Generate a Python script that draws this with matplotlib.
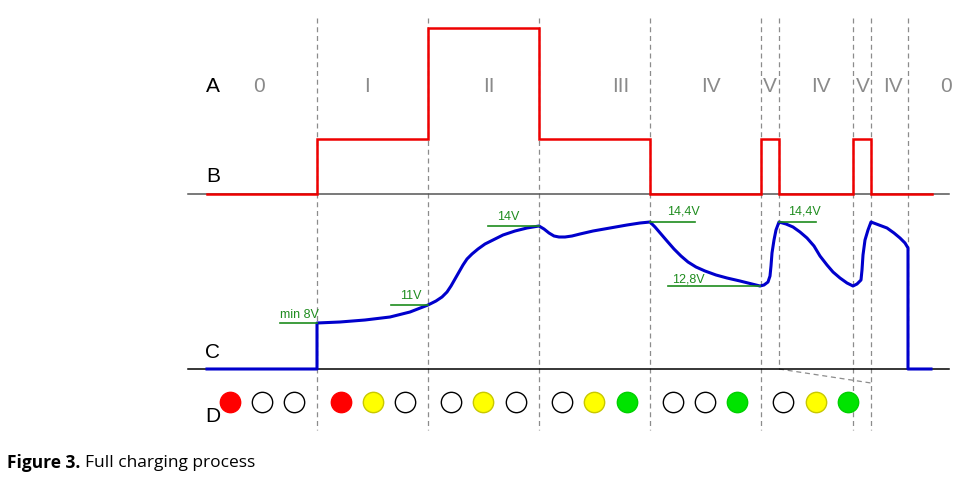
import matplotlib.pyplot as plt

# phase boundaries (x, px) and phase names shown along the top row
boundaries = [317, 428, 539, 650, 761, 779, 853, 871]
phase_x = [259, 367, 489, 621, 711, 770, 821, 863, 893, 946]
phase_names = ["0", "I", "II", "III", "IV", "V", "IV", "V", "IV", "0"]

# B: charging current (step signal)
current_x = [207, 317, 428, 539, 650, 761, 779, 853, 871, 932]
current_y = [194, 139, 28, 139, 194, 139, 194, 139, 194, 194]

# C: battery voltage curve
voltage_x = [207, 317, 317, 340, 365, 390, 410, 428, 436, 442, 447, 451, 455, 459,
             463, 467, 472, 478, 485, 493, 503, 515, 527, 539, 544, 549, 554, 559,
             565, 572, 580, 593, 610, 627, 640, 650, 655, 661, 667, 674, 681, 688,
             696, 705, 716, 727, 740, 752, 760, 764, 768, 770, 771, 772, 774, 776,
             779, 786, 793, 800, 807, 814, 820, 827, 833, 840, 847, 853, 857, 861,
             862, 863, 865, 868, 871, 879, 887, 894, 900, 905, 908, 908, 931]
voltage_y = [369, 369, 323, 322, 320, 317, 312, 305, 301, 297, 292, 286, 279, 272,
             265, 259, 254, 249, 244, 240, 235, 231, 228, 226, 229, 233, 236, 237,
             237, 236, 234, 231, 228, 225, 223, 222, 227, 234, 241, 249, 256, 262,
             267, 271, 275, 278, 281, 284, 286, 285, 282, 276, 266, 253, 240, 230,
             222, 224, 227, 232, 238, 246, 256, 265, 272, 278, 283, 286, 284, 280,
             270, 255, 240, 230, 222, 225, 228, 233, 238, 243, 248, 369, 369]

# green voltage markers
marker_x0 = [280, 391, 488, 650, 668, 779]
marker_x1 = [317, 428, 539, 695, 760, 816]
marker_y = [323, 305, 226, 222, 286, 222]
marker_text = ["min 8V", "11V", "14V", "14,4V", "12,8V", "14,4V"]
marker_tx = [299, 411, 508, 683, 688, 804]
marker_ty = [315, 296, 217, 212, 280, 212]

# D: indicator LEDs
led_x = [230, 262, 294, 341, 373, 405, 451, 483, 516, 562, 594, 627,
         673, 705, 737, 783, 816, 848]
led_color = ["red", "white", "white", "red", "yellow", "white",
             "white", "yellow", "white", "white", "yellow", "green",
             "white", "white", "green", "white", "yellow", "green"]

palette = {"red": ("#ff0000", "#ff0000"), "white": ("#ffffff", "#000000"),
           "yellow": ("#ffff00", "#c8c800"), "green": ("#00e400", "#00d000")}

fig = plt.figure(figsize=(9.78, 4.93), dpi=100)
ax = fig.add_axes([0, 0, 1, 1])
ax.set_xlim(0, 978)
ax.set_ylim(493, 0)
ax.axis("off")

dash = dict(color="#8c8c8c", lw=0.9, ls=(0, (4, 3)))
for bx in boundaries:
    if bx == 779:
        ax.plot([bx, bx], [18, 369], **dash)
    else:
        ax.plot([bx, bx], [18, 430], **dash)
ax.plot([908, 908], [18, 369], **dash)
ax.plot([779, 871], [369, 383], **dash)

# baselines
ax.plot([188, 949], [194, 194], color="#555555", lw=1.1)
ax.plot([188, 949], [369, 369], color="#000000", lw=1.1)

ax.plot(current_x, current_y, color="#ee0000", lw=1.8, drawstyle="steps-post",
        solid_joinstyle="miter")
ax.plot(voltage_x, voltage_y, color="#0000cc", lw=2.2, solid_joinstyle="round")

for x0, x1, y, t, tx, ty in zip(marker_x0, marker_x1, marker_y, marker_text,
                                marker_tx, marker_ty):
    ax.plot([x0, x1], [y, y], color="#1e8c1e", lw=1.2)
    ax.text(tx, ty, t, color="#1e8c1e", fontsize=9, ha="center", va="center",
            family="Liberation Sans")

for x, c in zip(led_x, led_color):
    fc, ec = palette[c]
    ax.scatter([x], [402], s=215, facecolor=fc, edgecolor=ec, linewidths=1.0, zorder=3)

for lbl, y in zip(["A", "B", "C", "D"], [87, 177, 353, 416]):
    ax.text(213, y, lbl, fontsize=15, ha="center", va="center", family="Liberation Sans")
for x, t in zip(phase_x, phase_names):
    ax.text(x, 87, t, fontsize=15, color="#8a8a8a", ha="center", va="center",
            family="Liberation Sans")

fig.text(7 / 978, 1 - 463 / 493, "Figure 3.", fontsize=12.5, fontweight="bold",
         family="Open Sans", va="center", ha="left")
fig.text(85 / 978, 1 - 463 / 493, "Full charging process", fontsize=12.5,
         family="Open Sans", va="center", ha="left")

fig.savefig("out.png", dpi=100)
